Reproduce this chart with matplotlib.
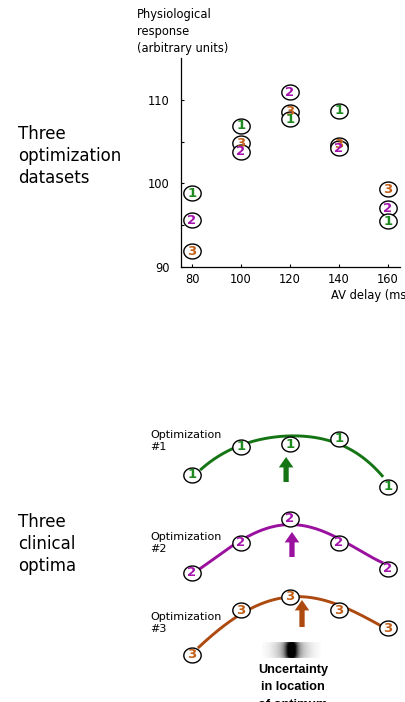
import numpy as np
import matplotlib
matplotlib.use("Agg")
import matplotlib.pyplot as plt
from matplotlib.path import Path

# --- data ---
av_delay = [80, 100, 120, 140, 160]
# optimization datasets (physiological response, arbitrary units)
resp1 = [98.8, 106.9, 107.7, 108.7, 95.5]
resp2 = [95.6, 103.8, 110.9, 104.2, 97.0]
resp3 = [91.9, 104.8, 108.6, 104.6, 99.3]

# schematic lower panel (heights in arbitrary units)
opt1_pts = [227, 255, 258, 263, 215]
opt2_pts = [129, 159, 183, 159, 133]
opt3_pts = [47, 92, 105, 92, 74]

curve1_x = [83.3, 97.6, 107.8, 117.1, 126.9, 137.6, 147.3, 158.0]
curve1_y = [232, 254, 263, 266, 265, 260, 249, 225]
curve2_x = [82.4, 96.7, 102.4, 113.1, 121.2, 132.2, 143.3, 158.0]
curve2_y = [132, 155, 167, 175, 177, 172, 159, 139]
curve3_x = [82.4, 97.6, 104.9, 113.1, 120.0, 126.9, 136.3, 147.3, 158.0]
curve3_y = [54, 84, 95, 102, 105, 105, 100, 89, 75]

optimum_x = [118.4, 120.8, 124.9]
arrow_tip = [245, 170, 102]
arrow_base = [220, 145, 75]

labels = ['1', '2', '3']
num_colors = ['#1f8a1f', '#a414ac', '#c2601a']
line_colors = ['#157515', '#9a109f', '#ad4a0f']

W, H = 406, 702
fig = plt.figure(figsize=(W / 100, H / 100), dpi=100)

# slightly flattened circle marker
t = np.linspace(0, 2 * np.pi, 60)
oval = Path(np.column_stack([np.cos(t), 0.86 * np.sin(t)]), closed=True)
MS = 12.5
FS_NUM = 9.5

xlim = (75.5, 164.9)

# ---------- top: scatter of datasets ----------
ax = fig.add_axes([181 / W, 1 - 267 / H, (400 - 181) / W, (267 - 58) / H])
ax.set_xlim(*xlim)
ax.set_ylim(90, 115)
for sp in ['top', 'right']:
    ax.spines[sp].set_visible(False)
for sp in ['left', 'bottom']:
    ax.spines[sp].set_linewidth(0.9)
ax.set_xticks(av_delay)
ax.set_yticks([90, 100, 110])
ax.set_yticks([95, 105], minor=True)
ax.tick_params(direction='in', length=2.5, width=0.8, labelsize=8.3)
ax.tick_params(axis='y', which='minor', direction='in', length=2.5, width=0.8)
ax.tick_params(axis='y', pad=8)
ax.tick_params(axis='x', pad=4)

for resp, lab, c in zip([resp3, resp2, resp1], ['3', '2', '1'],
                        [num_colors[2], num_colors[1], num_colors[0]]):
    ax.plot(av_delay, resp, ls='none', marker=oval, ms=MS, mfc='white',
            mec='black', mew=1.0, clip_on=False)
    for x, y in zip(av_delay, resp):
        ax.text(x, y, lab, color=c, fontsize=FS_NUM, fontweight='bold',
                ha='center', va='center', clip_on=False)

fig.text(137 / W, 1 - 8 / H, 'Physiological\nresponse\n(arbitrary units)',
         fontsize=8.3, va='top', ha='left', linespacing=1.38)
fig.text(331 / W, 1 - 296 / H, 'AV delay (ms)', fontsize=8.3,
         va='center', ha='left')

# ---------- bottom: schematic optima ----------
bx = fig.add_axes([181 / W, 0, (400 - 181) / W, 302 / H])
bx.set_xlim(*xlim)
bx.set_ylim(0, 302)
bx.axis('off')

curves = [(curve1_x, curve1_y), (curve2_x, curve2_y), (curve3_x, curve3_y)]
pts = [opt1_pts, opt2_pts, opt3_pts]
for i in range(3):
    cx, cy = curves[i]
    coef = np.polyfit(cx, cy, 4)
    xs = np.linspace(cx[0], cx[-1], 200)
    bx.plot(xs, np.polyval(coef, xs), color=line_colors[i], lw=2.1,
            solid_capstyle='butt', zorder=2)
    bx.plot(av_delay, pts[i], ls='none', marker=oval, ms=MS, mfc='white',
            mec='black', mew=1.0, clip_on=False, zorder=3)
    for x, y in zip(av_delay, pts[i]):
        bx.text(x, y, labels[i], color=num_colors[i], fontsize=FS_NUM,
                fontweight='bold', ha='center', va='center', zorder=4,
                clip_on=False)
    bx.annotate('', xy=(optimum_x[i], arrow_tip[i]),
                xytext=(optimum_x[i], arrow_base[i]),
                arrowprops=dict(arrowstyle='simple,head_length=0.75,head_width=1.05,tail_width=0.38',
                                color=line_colors[i], mutation_scale=10,
                                shrinkA=0, shrinkB=0, lw=0))
    bx.text(62.9, [272, 170, 90][i], 'Optimization\n#' + labels[i],
            fontsize=8, ha='left', va='top', linespacing=1.3, clip_on=False)

# uncertainty blob: dark centre fading out to white
gx = np.linspace(-1, 1, 240)
dark = 0.9 * np.exp(-(gx / 0.2) ** 2) + 0.4 * np.exp(-(gx / 0.55) ** 2)
gy = np.linspace(-1, 1, 20)
vfade = 1 - 0.25 * np.abs(gy) ** 4
img = 1 - np.clip(np.outer(vfade, dark), 0, 1)
bx.imshow(img, cmap='gray', vmin=0, vmax=1,
          extent=(108.5, 132.5, 44, 60), aspect='auto', zorder=1,
          interpolation='bilinear')
bx.text(121.2, 38, 'Uncertainty\nin location\nof optimum',
        family=['Liberation Sans', 'DejaVu Sans'],
        fontsize=9.2, fontweight='bold', ha='center', va='top',
        linespacing=1.6, clip_on=False)

# left annotations
fig.text(18 / W, 1 - 125 / H, 'Three\noptimization\ndatasets', fontsize=12,
         ha='left', va='top', linespacing=1.3)
fig.text(18 / W, 1 - 513 / H, 'Three\nclinical\noptima', fontsize=12,
         ha='left', va='top', linespacing=1.3)

fig.savefig('out.png', dpi=100)
